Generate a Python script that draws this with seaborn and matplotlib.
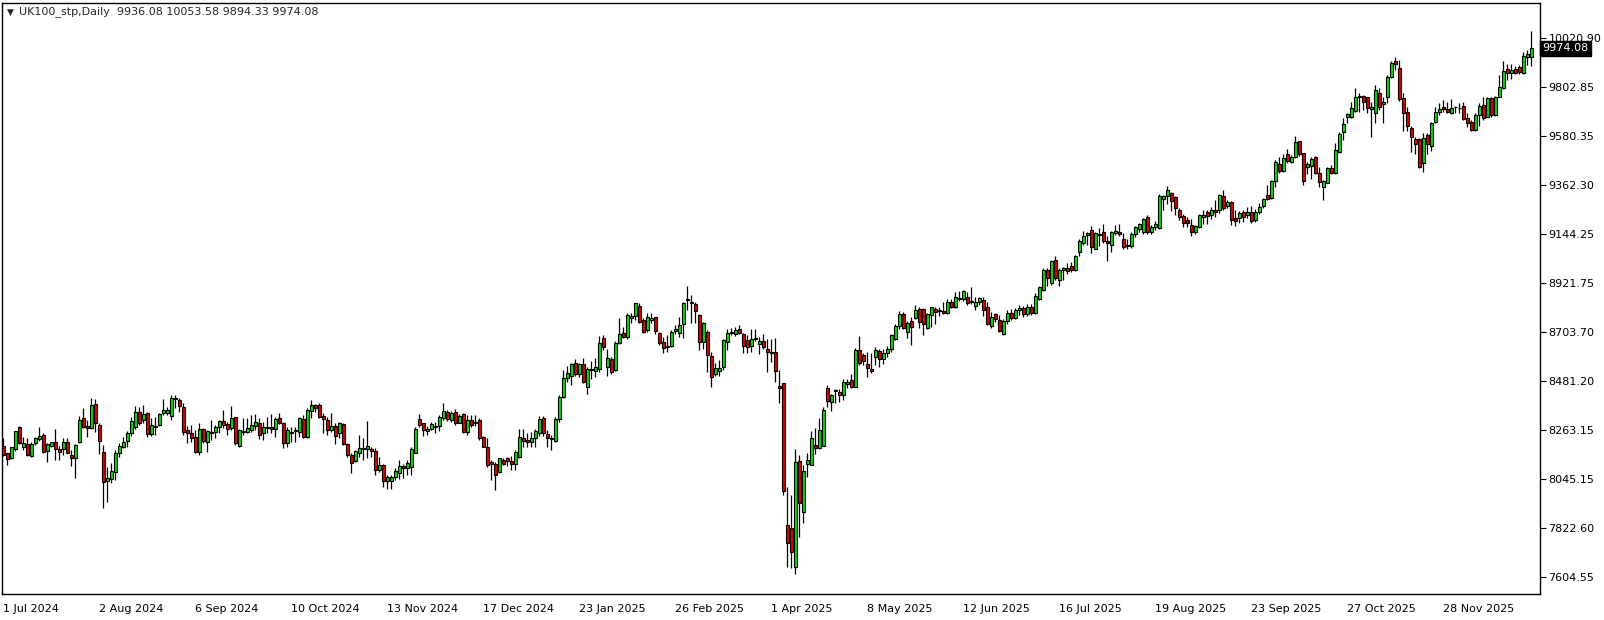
import matplotlib
matplotlib.use("Agg")
import matplotlib.pyplot as plt
import matplotlib.transforms as mtransforms
import numpy as np
import pandas as pd
import seaborn as sns

sns.set_style("white")
plt.rcParams['font.family'] = ['DejaVu Sans']

# daily OHLC, 1 Jul 2024 .. end Dec 2025
opens = [
    8191, 8159, 8136, 8179, 8275, 8188, 8200, 8148, 8203, 8221,
    8241, 8170, 8191, 8208, 8178, 8176, 8208, 8151, 8139, 8211,
    8315, 8281, 8271, 8380, 8286, 8164, 8036, 8042, 8075, 8162,
    8188, 8215, 8248, 8275, 8342, 8308, 8338, 8244, 8281, 8286,
    8338, 8341, 8326, 8401, 8398, 8368, 8263, 8248, 8233, 8166,
    8266, 8211, 8254, 8254, 8275, 8303, 8290, 8271, 8320, 8191,
    8259, 8256, 8263, 8282, 8293, 8248, 8276, 8275, 8266, 8317,
    8293, 8206, 8255, 8257, 8255, 8311, 8230, 8350, 8375, 8375,
    8326, 8308, 8263, 8281, 8251, 8290, 8200, 8151, 8125, 8158,
    8179, 8179, 8178, 8169, 8084, 8106, 8034, 8036, 8051, 8069,
    8102, 8091, 8099, 8161, 8311, 8293, 8260, 8270, 8278, 8281,
    8315, 8345, 8308, 8345, 8296, 8335, 8255, 8308, 8299, 8308,
    8230, 8185, 8121, 8113, 8076, 8128, 8137, 8125, 8110, 8141,
    8226, 8217, 8211, 8226, 8252, 8319, 8246, 8229, 8216, 8312,
    8410, 8498, 8507, 8565, 8515, 8560, 8458, 8533, 8530, 8536,
    8675, 8548, 8580, 8533, 8652, 8697, 8679, 8767, 8775, 8820,
    8757, 8712, 8757, 8769, 8700, 8658, 8634, 8640, 8709, 8697,
    8737, 8847, 8838, 8829, 8779, 8657, 8705, 8596, 8515, 8530,
    8545, 8660, 8697, 8694, 8715, 8693, 8667, 8640, 8674, 8647,
    8661, 8625, 8613, 8611, 8461, 8472, 7836, 7823, 7651, 8123,
    7897, 8111, 8108, 8198, 8181, 8193, 8450, 8387, 8437, 8434,
    8420, 8468, 8486, 8458, 8622, 8599, 8559, 8537, 8592, 8617,
    8580, 8608, 8625, 8671, 8731, 8782, 8701, 8752, 8767, 8806,
    8806, 8722, 8779, 8806, 8800, 8797, 8786, 8836, 8816, 8852,
    8851, 8858, 8839, 8821, 8836, 8846, 8813, 8730, 8782, 8756,
    8692, 8754, 8790, 8765, 8800, 8810, 8785, 8815, 8790, 8850,
    8891, 8980, 8923, 9025, 8935, 8983, 8988, 8998, 8980, 9062,
    9103, 9139, 9160, 9077, 9136, 9149, 9110, 9095, 9145, 9151,
    9122, 9092, 9090, 9140, 9165, 9150, 9217, 9150, 9172, 9167,
    9300, 9314, 9324, 9306, 9249, 9223, 9205, 9182, 9150, 9175,
    9220, 9239, 9227, 9252, 9249, 9312, 9267, 9287, 9212, 9212,
    9239, 9227, 9242, 9205, 9240, 9270, 9317, 9302, 9380, 9455,
    9426, 9499, 9467, 9489, 9559, 9504, 9441, 9449, 9486, 9414,
    9354, 9372, 9437, 9417, 9511, 9601, 9668, 9668, 9695, 9758,
    9761, 9755, 9701, 9683, 9773, 9725, 9758, 9847, 9918, 9885,
    9750, 9691, 9616, 9566, 9566, 9462, 9586, 9537, 9646, 9691,
    9710, 9702, 9686, 9710, 9708, 9716, 9661, 9646, 9608, 9676,
    9720, 9668, 9753, 9676, 9758, 9795, 9880, 9865, 9880, 9892,
    9865, 9934, 9936.08,
]
highs = [
    8226, 8162, 8188, 8260, 8281, 8230, 8226, 8211, 8233, 8275,
    8248, 8203, 8211, 8266, 8191, 8226, 8226, 8173, 8200, 8326,
    8360, 8308, 8405, 8401, 8293, 8196, 8099, 8117, 8173, 8206,
    8233, 8260, 8323, 8372, 8368, 8375, 8345, 8315, 8323, 8341,
    8401, 8368, 8420, 8420, 8405, 8386, 8281, 8286, 8263, 8293,
    8271, 8263, 8308, 8288, 8308, 8353, 8300, 8371, 8323, 8266,
    8315, 8315, 8330, 8335, 8315, 8300, 8320, 8335, 8320, 8338,
    8300, 8278, 8278, 8278, 8323, 8330, 8360, 8397, 8382, 8385,
    8338, 8323, 8338, 8293, 8300, 8296, 8203, 8161, 8173, 8240,
    8226, 8305, 8188, 8181, 8143, 8113, 8061, 8061, 8091, 8128,
    8113, 8128, 8188, 8278, 8335, 8296, 8281, 8300, 8300, 8330,
    8385, 8353, 8350, 8356, 8335, 8341, 8330, 8330, 8330, 8315,
    8236, 8226, 8128, 8121, 8140, 8136, 8144, 8147, 8174, 8267,
    8267, 8249, 8256, 8267, 8326, 8326, 8264, 8241, 8323, 8421,
    8533, 8551, 8565, 8580, 8563, 8585, 8545, 8574, 8585, 8685,
    8689, 8625, 8589, 8664, 8764, 8727, 8790, 8790, 8835, 8832,
    8764, 8790, 8790, 8772, 8705, 8682, 8690, 8712, 8734, 8772,
    8839, 8909, 8869, 8839, 8784, 8749, 8712, 8615, 8566, 8578,
    8670, 8715, 8720, 8727, 8734, 8697, 8690, 8715, 8715, 8679,
    8694, 8670, 8670, 8674, 8532, 8475, 8006, 7972, 8177, 8151,
    8106, 8162, 8259, 8274, 8316, 8368, 8465, 8425, 8446, 8446,
    8492, 8492, 8514, 8629, 8685, 8610, 8611, 8607, 8637, 8625,
    8625, 8640, 8694, 8737, 8797, 8794, 8752, 8771, 8824, 8816,
    8812, 8786, 8816, 8813, 8816, 8836, 8851, 8851, 8883, 8886,
    8891, 8880, 8903, 8861, 8861, 8861, 8839, 8794, 8786, 8779,
    8761, 8800, 8805, 8810, 8825, 8820, 8830, 8830, 8876, 8909,
    8988, 8988, 9025, 9043, 8988, 8995, 9010, 9018, 9047, 9118,
    9155, 9152, 9177, 9152, 9167, 9189, 9133, 9155, 9182, 9186,
    9145, 9122, 9150, 9177, 9192, 9213, 9227, 9182, 9202, 9321,
    9317, 9357, 9332, 9312, 9257, 9232, 9217, 9208, 9182, 9232,
    9252, 9249, 9264, 9294, 9321, 9339, 9294, 9291, 9249, 9246,
    9249, 9264, 9267, 9255, 9280, 9305, 9362, 9384, 9474, 9489,
    9501, 9522, 9496, 9582, 9561, 9507, 9467, 9486, 9492, 9441,
    9384, 9444, 9452, 9549, 9601, 9661, 9683, 9735, 9795, 9776,
    9765, 9758, 9735, 9810, 9795, 9758, 9855, 9919, 9934, 9922,
    9773, 9713, 9626, 9578, 9571, 9593, 9593, 9646, 9713, 9728,
    9743, 9735, 9746, 9716, 9728, 9735, 9683, 9653, 9683, 9728,
    9758, 9758, 9755, 9761, 9855, 9918, 9904, 9904, 9895, 9900,
    9959, 9967, 10053.58,
]
lows = [
    8147, 8106, 8132, 8170, 8200, 8173, 8147, 8144, 8196, 8215,
    8159, 8121, 8188, 8129, 8129, 8151, 8159, 8103, 8049, 8206,
    8271, 8230, 8266, 8254, 8156, 7912, 7942, 8024, 8039, 8141,
    8181, 8185, 8236, 8266, 8286, 8293, 8233, 8236, 8241, 8281,
    8330, 8330, 8308, 8360, 8345, 8241, 8203, 8211, 8162, 8150,
    8206, 8166, 8218, 8226, 8248, 8271, 8241, 8263, 8196, 8188,
    8241, 8248, 8256, 8263, 8221, 8218, 8248, 8248, 8230, 8290,
    8181, 8188, 8211, 8211, 8233, 8226, 8226, 8315, 8345, 8315,
    8248, 8240, 8255, 8200, 8226, 8196, 8143, 8069, 8121, 8143,
    8128, 8136, 8143, 8061, 8076, 8009, 7997, 8001, 8039, 8042,
    8046, 8061, 8061, 8158, 8278, 8236, 8240, 8263, 8248, 8260,
    8308, 8305, 8300, 8285, 8293, 8251, 8240, 8278, 8281, 8218,
    8185, 8099, 8039, 7994, 8069, 8106, 8102, 8084, 8084, 8137,
    8189, 8189, 8186, 8186, 8237, 8237, 8186, 8174, 8211, 8301,
    8406, 8480, 8465, 8506, 8503, 8476, 8425, 8491, 8500, 8525,
    8622, 8506, 8515, 8530, 8649, 8678, 8670, 8745, 8757, 8745,
    8700, 8705, 8745, 8694, 8645, 8610, 8615, 8634, 8694, 8682,
    8675, 8802, 8742, 8742, 8622, 8625, 8525, 8458, 8506, 8506,
    8533, 8622, 8690, 8685, 8693, 8608, 8610, 8615, 8664, 8604,
    8625, 8525, 8570, 8480, 8386, 7972, 7648, 7643, 7618, 7782,
    7845, 8054, 8106, 8156, 8177, 8192, 8368, 8350, 8386, 8390,
    8398, 8450, 8450, 8455, 8555, 8555, 8502, 8520, 8555, 8547,
    8560, 8590, 8615, 8667, 8716, 8716, 8677, 8644, 8761, 8719,
    8689, 8716, 8727, 8737, 8776, 8782, 8782, 8809, 8809, 8842,
    8842, 8824, 8827, 8801, 8824, 8776, 8734, 8722, 8749, 8704,
    8689, 8740, 8755, 8760, 8780, 8770, 8775, 8780, 8785, 8846,
    8888, 8909, 8913, 8935, 8909, 8935, 8965, 8973, 8977, 9043,
    9092, 9092, 9058, 9073, 9088, 9103, 9022, 9062, 9137, 9133,
    9073, 9077, 9080, 9130, 9150, 9140, 9140, 9140, 9160, 9163,
    9249, 9276, 9246, 9227, 9205, 9175, 9175, 9135, 9140, 9167,
    9187, 9187, 9208, 9217, 9237, 9252, 9261, 9182, 9178, 9193,
    9197, 9212, 9193, 9195, 9230, 9260, 9295, 9298, 9351, 9417,
    9422, 9462, 9462, 9484, 9492, 9362, 9411, 9387, 9411, 9354,
    9295, 9369, 9411, 9411, 9507, 9564, 9638, 9661, 9691, 9691,
    9698, 9683, 9576, 9641, 9698, 9638, 9728, 9840, 9877, 9740,
    9605, 9605, 9511, 9501, 9437, 9422, 9501, 9516, 9641, 9676,
    9691, 9686, 9680, 9683, 9683, 9653, 9623, 9605, 9605, 9626,
    9653, 9665, 9668, 9671, 9755, 9791, 9832, 9835, 9859, 9859,
    9859, 9900, 9894.33,
]
closes = [
    8151, 8132, 8185, 8257, 8206, 8203, 8151, 8200, 8226, 8236,
    8166, 8199, 8208, 8176, 8163, 8208, 8162, 8139, 8194, 8308,
    8275, 8274, 8375, 8296, 8215, 8032, 8046, 8079, 8159, 8191,
    8209, 8251, 8305, 8342, 8296, 8333, 8244, 8286, 8278, 8335,
    8351, 8351, 8405, 8405, 8372, 8256, 8251, 8229, 8166, 8266,
    8214, 8259, 8248, 8278, 8303, 8286, 8266, 8315, 8203, 8263,
    8256, 8271, 8286, 8297, 8243, 8275, 8273, 8266, 8311, 8293,
    8206, 8263, 8252, 8263, 8315, 8230, 8353, 8375, 8364, 8323,
    8311, 8263, 8281, 8236, 8293, 8200, 8151, 8116, 8169, 8181,
    8182, 8191, 8169, 8084, 8106, 8036, 8051, 8052, 8081, 8102,
    8091, 8116, 8176, 8270, 8285, 8263, 8270, 8290, 8281, 8320,
    8350, 8311, 8341, 8296, 8326, 8255, 8308, 8285, 8296, 8226,
    8188, 8106, 8113, 8061, 8136, 8113, 8126, 8110, 8164, 8231,
    8216, 8211, 8226, 8259, 8312, 8252, 8226, 8225, 8312, 8410,
    8498, 8518, 8558, 8513, 8558, 8480, 8536, 8536, 8545, 8652,
    8634, 8585, 8525, 8655, 8694, 8682, 8779, 8775, 8832, 8749,
    8705, 8772, 8764, 8709, 8652, 8630, 8640, 8705, 8715, 8734,
    8832, 8850, 8832, 8799, 8657, 8745, 8600, 8503, 8540, 8543,
    8667, 8697, 8705, 8712, 8697, 8642, 8637, 8672, 8670, 8661,
    8637, 8614, 8607, 8529, 8450, 7991, 7755, 7715, 8118, 7935,
    8078, 8127, 8227, 8181, 8263, 8353, 8395, 8420, 8443, 8420,
    8480, 8480, 8458, 8622, 8562, 8574, 8543, 8529, 8622, 8580,
    8610, 8625, 8689, 8731, 8782, 8722, 8742, 8727, 8801, 8746,
    8737, 8782, 8813, 8794, 8795, 8786, 8836, 8816, 8858, 8857,
    8886, 8831, 8842, 8839, 8854, 8801, 8739, 8771, 8759, 8709,
    8754, 8790, 8765, 8800, 8810, 8785, 8815, 8790, 8864, 8903,
    8980, 8943, 9021, 8943, 8980, 8988, 8977, 8980, 9043, 9112,
    9133, 9145, 9085, 9145, 9140, 9112, 9100, 9152, 9154, 9142,
    9085, 9088, 9140, 9172, 9185, 9208, 9150, 9175, 9185, 9312,
    9312, 9339, 9291, 9257, 9220, 9190, 9193, 9150, 9178, 9227,
    9226, 9224, 9252, 9242, 9317, 9261, 9287, 9205, 9202, 9235,
    9220, 9242, 9202, 9242, 9265, 9300, 9299, 9380, 9464, 9426,
    9481, 9470, 9489, 9553, 9499, 9381, 9455, 9478, 9417, 9374,
    9381, 9440, 9414, 9519, 9589, 9634, 9679, 9706, 9755, 9761,
    9735, 9706, 9710, 9788, 9713, 9735, 9847, 9907, 9903, 9746,
    9686, 9626, 9575, 9546, 9441, 9571, 9546, 9638, 9691, 9701,
    9701, 9691, 9705, 9713, 9705, 9656, 9641, 9608, 9676, 9716,
    9661, 9753, 9676, 9755, 9800, 9873, 9865, 9877, 9862, 9870,
    9940, 9949, 9974.08,
]

date_labels = ["1 Jul 2024", "2 Aug 2024", "6 Sep 2024", "10 Oct 2024",
               "13 Nov 2024", "17 Dec 2024", "23 Jan 2025", "26 Feb 2025",
               "1 Apr 2025", "8 May 2025", "12 Jun 2025", "16 Jul 2025",
               "19 Aug 2025", "23 Sep 2025", "27 Oct 2025", "28 Nov 2025"]
price_ticks = [7604.55, 7822.60, 8045.15, 8263.15, 8481.20, 8703.70,
               8921.75, 9144.25, 9362.30, 9580.35, 9802.85, 10020.90]

df = pd.DataFrame({"open": opens, "high": highs, "low": lows, "close": closes})
df["bar"] = np.arange(len(df))
df["up"] = df["close"] >= df["open"]
df["body_lo"] = df[["open", "close"]].min(axis=1)
df["body_h"] = (df["close"] - df["open"]).abs()

W, H = 1604, 620
fig = plt.figure(figsize=(W / 100, H / 100), dpi=100)
ax = fig.add_axes([2 / W, 26 / H, 1538 / W, 591 / H])

# wicks then bodies
ax.vlines(df["bar"], df["low"], df["high"], color="black", linewidth=0.9, zorder=2)
colors = np.where(df["up"], "#00e000", "#e00000")
ax.bar(df["bar"], df["body_h"], bottom=df["body_lo"], width=0.72,
       color=colors, edgecolor="black", linewidth=0.8, zorder=3)

ax.set_xlim(-0.325, 384.2)
ax.set_ylim(7528, 10178)

ax.yaxis.tick_right()
ax.set_yticks(price_ticks)
ax.set_yticklabels([f"{v:.2f}" for v in price_ticks])
ax.set_xticks(np.arange(len(date_labels)) * 24)
ax.set_xticklabels(date_labels, ha="left")
ax.tick_params(axis="both", direction="out", length=4, width=0.8,
               labelsize=8, colors="black")
ax.tick_params(axis="y", pad=2)
ax.tick_params(axis="x", pad=3)
for s in ax.spines.values():
    s.set_color("black")
    s.set_linewidth(1.0)
ax.grid(False)

# last price marker on the price scale
trans = mtransforms.blended_transform_factory(ax.transAxes, ax.transData)
ax.text(1.0015, closes[-1], f"{closes[-1]:.2f}", transform=trans,
        ha="left", va="center", fontsize=8, color="white", zorder=10,
        clip_on=False,
        bbox=dict(boxstyle="square,pad=0.25", facecolor="black", edgecolor="black"))

fig.text(7 / W, 1 - 12 / H, "\u25BC", fontsize=6.5, va="center", ha="left")
fig.text(19 / W, 1 - 12 / H, "UK100_stp,Daily  9936.08 10053.58 9894.33 9974.08",
         fontsize=8, va="center", ha="left")

fig.savefig("out.png", dpi=100, facecolor="white")
